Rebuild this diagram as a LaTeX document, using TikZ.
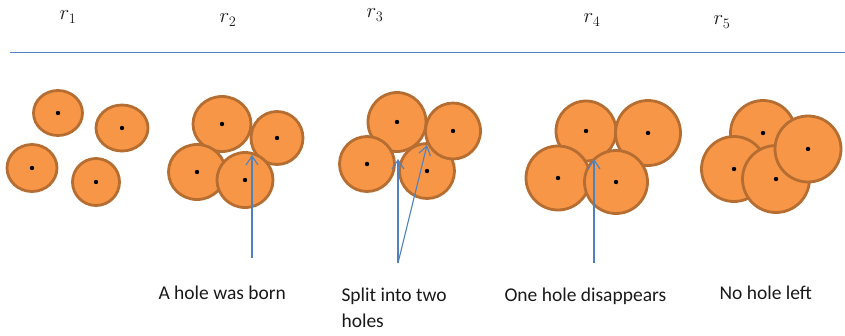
\documentclass[tikz,border=0pt]{standalone}
\usepackage{fontspec}
\setmainfont{Carlito}
\usetikzlibrary{arrows.meta, shapes.geometric}

\begin{document}
\begin{tikzpicture}[
    x=1pt, y=-1pt,
    every node/.style={font=\fontsize{19.5}{26}\selectfont, text=black!90},
    ball/.style={ellipse, draw=ballline, fill=ballfill, line width=2.8pt, inner sep=0pt},
    hint/.style={draw=hintblue, line width=1.1pt, -{Straight Barb[length=9pt, width=12pt]}},
]

\definecolor{ballfill}{HTML}{F79646}
\definecolor{ballline}{HTML}{B66D31}
\definecolor{hintblue}{HTML}{4F81BD}

\useasboundingbox (0,0) rectangle (845,335);

% ================================================================
%   five radii, left to right; coordinates in pixels, y down
%   each entry: name / x / y / width / height of the ball path
% ================================================================

% ---------------------------------------------------------------- radii
\foreach \i/\x/\y in {1/68/17, 2/228/20, 3/375/15, 4/592/20, 5/722/22} {
    \node[font=\fontsize{21}{24}\selectfont] (r\i) at (\x,\y) {$r_{\i}$};
}
\draw[hintblue, line width=1.4pt] (10,52.7) -- (845,52.7);

% ---------------------------------------------------------------- balls
\foreach \n/\x/\y/\w/\h in {
    11/58/113/49/45, 12/122/128/52/46, 13/32/168/50/47, 14/96/182/47/47,
    21/222/124/58/55, 22/277/138/52/53, 23/197/172/57/55, 24/245/180/56/55,
    31/397/122/58/59, 33/367/164/55/55, 34/427/171/55/55, 32/453/131/55/56,
    41/586/131/60/60, 42/648/133/65/65, 43/558/178/64/64, 44/616/182/63/63,
    51/763/133/65/65, 52/734/169/65/65, 53/776/179/67/67, 54/808/149/66/66} {
    \node[ball, minimum width=\w pt, minimum height=\h pt] (b\n) at (\x,\y) {};
    \fill (b\n.center) circle (2.2pt);
}

% ---------------------------------------------------------------- holes
\coordinate (born)  at (252,155);
\coordinate (splitl) at (398,159);
\coordinate (splitr) at (427,145);
\coordinate (gone)  at (594,159);

\coordinate (fborn)  at (252,258);
\coordinate (fsplit) at (398,263);
\coordinate (fgone)  at (594,263);

\draw[hint] (fborn) -- (born);
\draw[hint] (fsplit) -- (splitl);
\draw[hint] (fsplit) -- (splitr);
\draw[hint] (fgone) -- (gone);

% ---------------------------------------------------------------- labels
\node[anchor=base west] (lborn) at (155,299) {A hole was born};
% a two-line node sits on its last line
\node[anchor=base west, align=left] (lsplit) at (338,327) {Split into two\\holes};
\node[anchor=base west] (lgone) at (501,301) {One hole disappears};
\node[anchor=base west] (lnone) at (716,299) {No hole left};

\end{tikzpicture}
\end{document}
